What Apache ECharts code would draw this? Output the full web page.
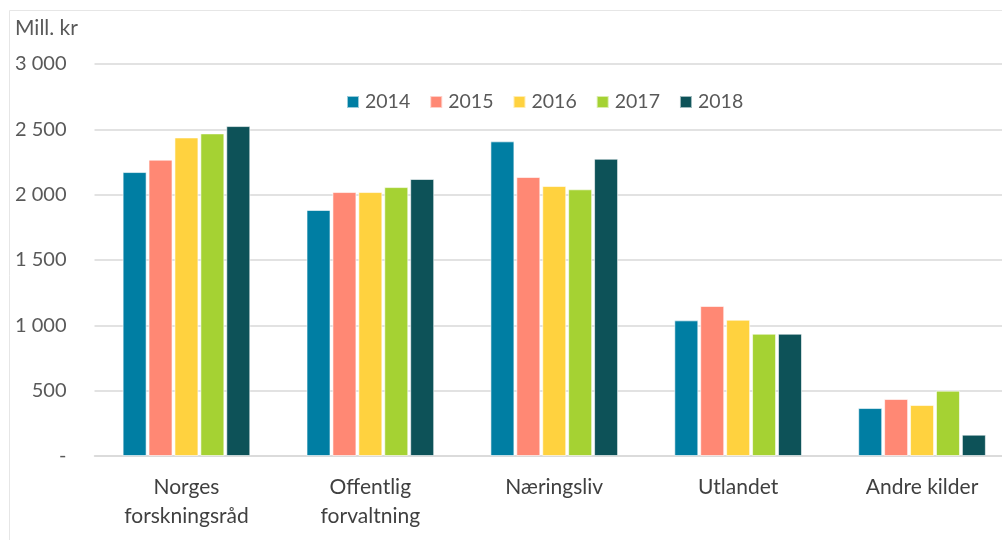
<!DOCTYPE html>
<html><head><meta charset="utf-8">
<script src="https://cdn.jsdelivr.net/npm/echarts@6/dist/echarts.min.js"></script>
<style>html,body{margin:0;padding:0;background:#fff;overflow:hidden}#w{width:1002px;height:540px;overflow:hidden}#c{width:1030px;height:540px}</style>
</head><body><div id="w"><div id="c"></div></div>
<script>
const categories = ['Norges\nforskningsråd', 'Offentlig\nforvaltning', 'Næringsliv', 'Utlandet', 'Andre kilder'];
const years = ['2014', '2015', '2016', '2017', '2018'];
const v2014 = [2173, 1883, 2408, 1038, 367];
const v2015 = [2268, 2020, 2135, 1148, 436];
const v2016 = [2438, 2020, 2066, 1043, 390];
const v2017 = [2469, 2058, 2041, 936, 500];
const v2018 = [2525, 2120, 2275, 936, 163];
const colors = ['#007ea3', '#ff8874', '#ffd23f', '#a5d233', '#0d5258'];
const yTicks = {0: '-', 500: '500', 1000: '1 000', 1500: '1 500', 2000: '2 000', 2500: '2 500', 3000: '3 000'};
const seriesValues = [v2014, v2015, v2016, v2017, v2018];
const font = 'Lato, "Open Sans", sans-serif';

const chart = echarts.init(document.getElementById('c'), null, {renderer: 'canvas'});
chart.setOption({
  animation: false,
  color: colors,
  textStyle: {fontFamily: font},
  graphic: [
    {type: 'rect', shape: {x: 9.5, y: 10.5, width: 1100, height: 600}, style: {fill: 'none', stroke: '#e6e6e6', lineWidth: 1}},
    {type: 'text', left: 15, top: 18, style: {text: 'Mill. kr', fontSize: 21, fill: '#595959', fontFamily: font}}
  ],
  legend: {
    top: 87, left: 341, itemWidth: 12, itemHeight: 12, itemGap: 19,
    icon: 'rect',
    textStyle: {fontSize: 19.5, color: '#595959', fontFamily: font, padding: [0, 0, 0, 1]},
    data: years
  },
  grid: {left: 94.5, top: 64, width: 919.5, height: 392, containLabel: false},
  xAxis: {
    type: 'category', data: categories,
    axisLine: {lineStyle: {color: '#d9d9d9', width: 1.5}},
    axisTick: {show: false},
    axisLabel: {fontSize: 21, color: '#404040', lineHeight: 29, margin: 17, fontFamily: font}
  },
  yAxis: {
    type: 'value', min: 0, max: 3000, interval: 500,
    axisLine: {show: false}, axisTick: {show: false},
    splitLine: {lineStyle: {color: '#d9d9d9', width: 1.5}},
    axisLabel: {fontSize: 20, color: '#595959', margin: 28, fontFamily: font,
      formatter: v => yTicks[v] !== undefined ? yTicks[v] : ''}
  },
  series: seriesValues.map((d, i) => ({
    name: years[i], type: 'bar', data: d,
    barWidth: 24, barGap: '8%', barCategoryGap: '32%',
    itemStyle: {borderColor: 'rgba(255,255,255,0.6)', borderWidth: 1}
  }))
});
</script></body></html>
